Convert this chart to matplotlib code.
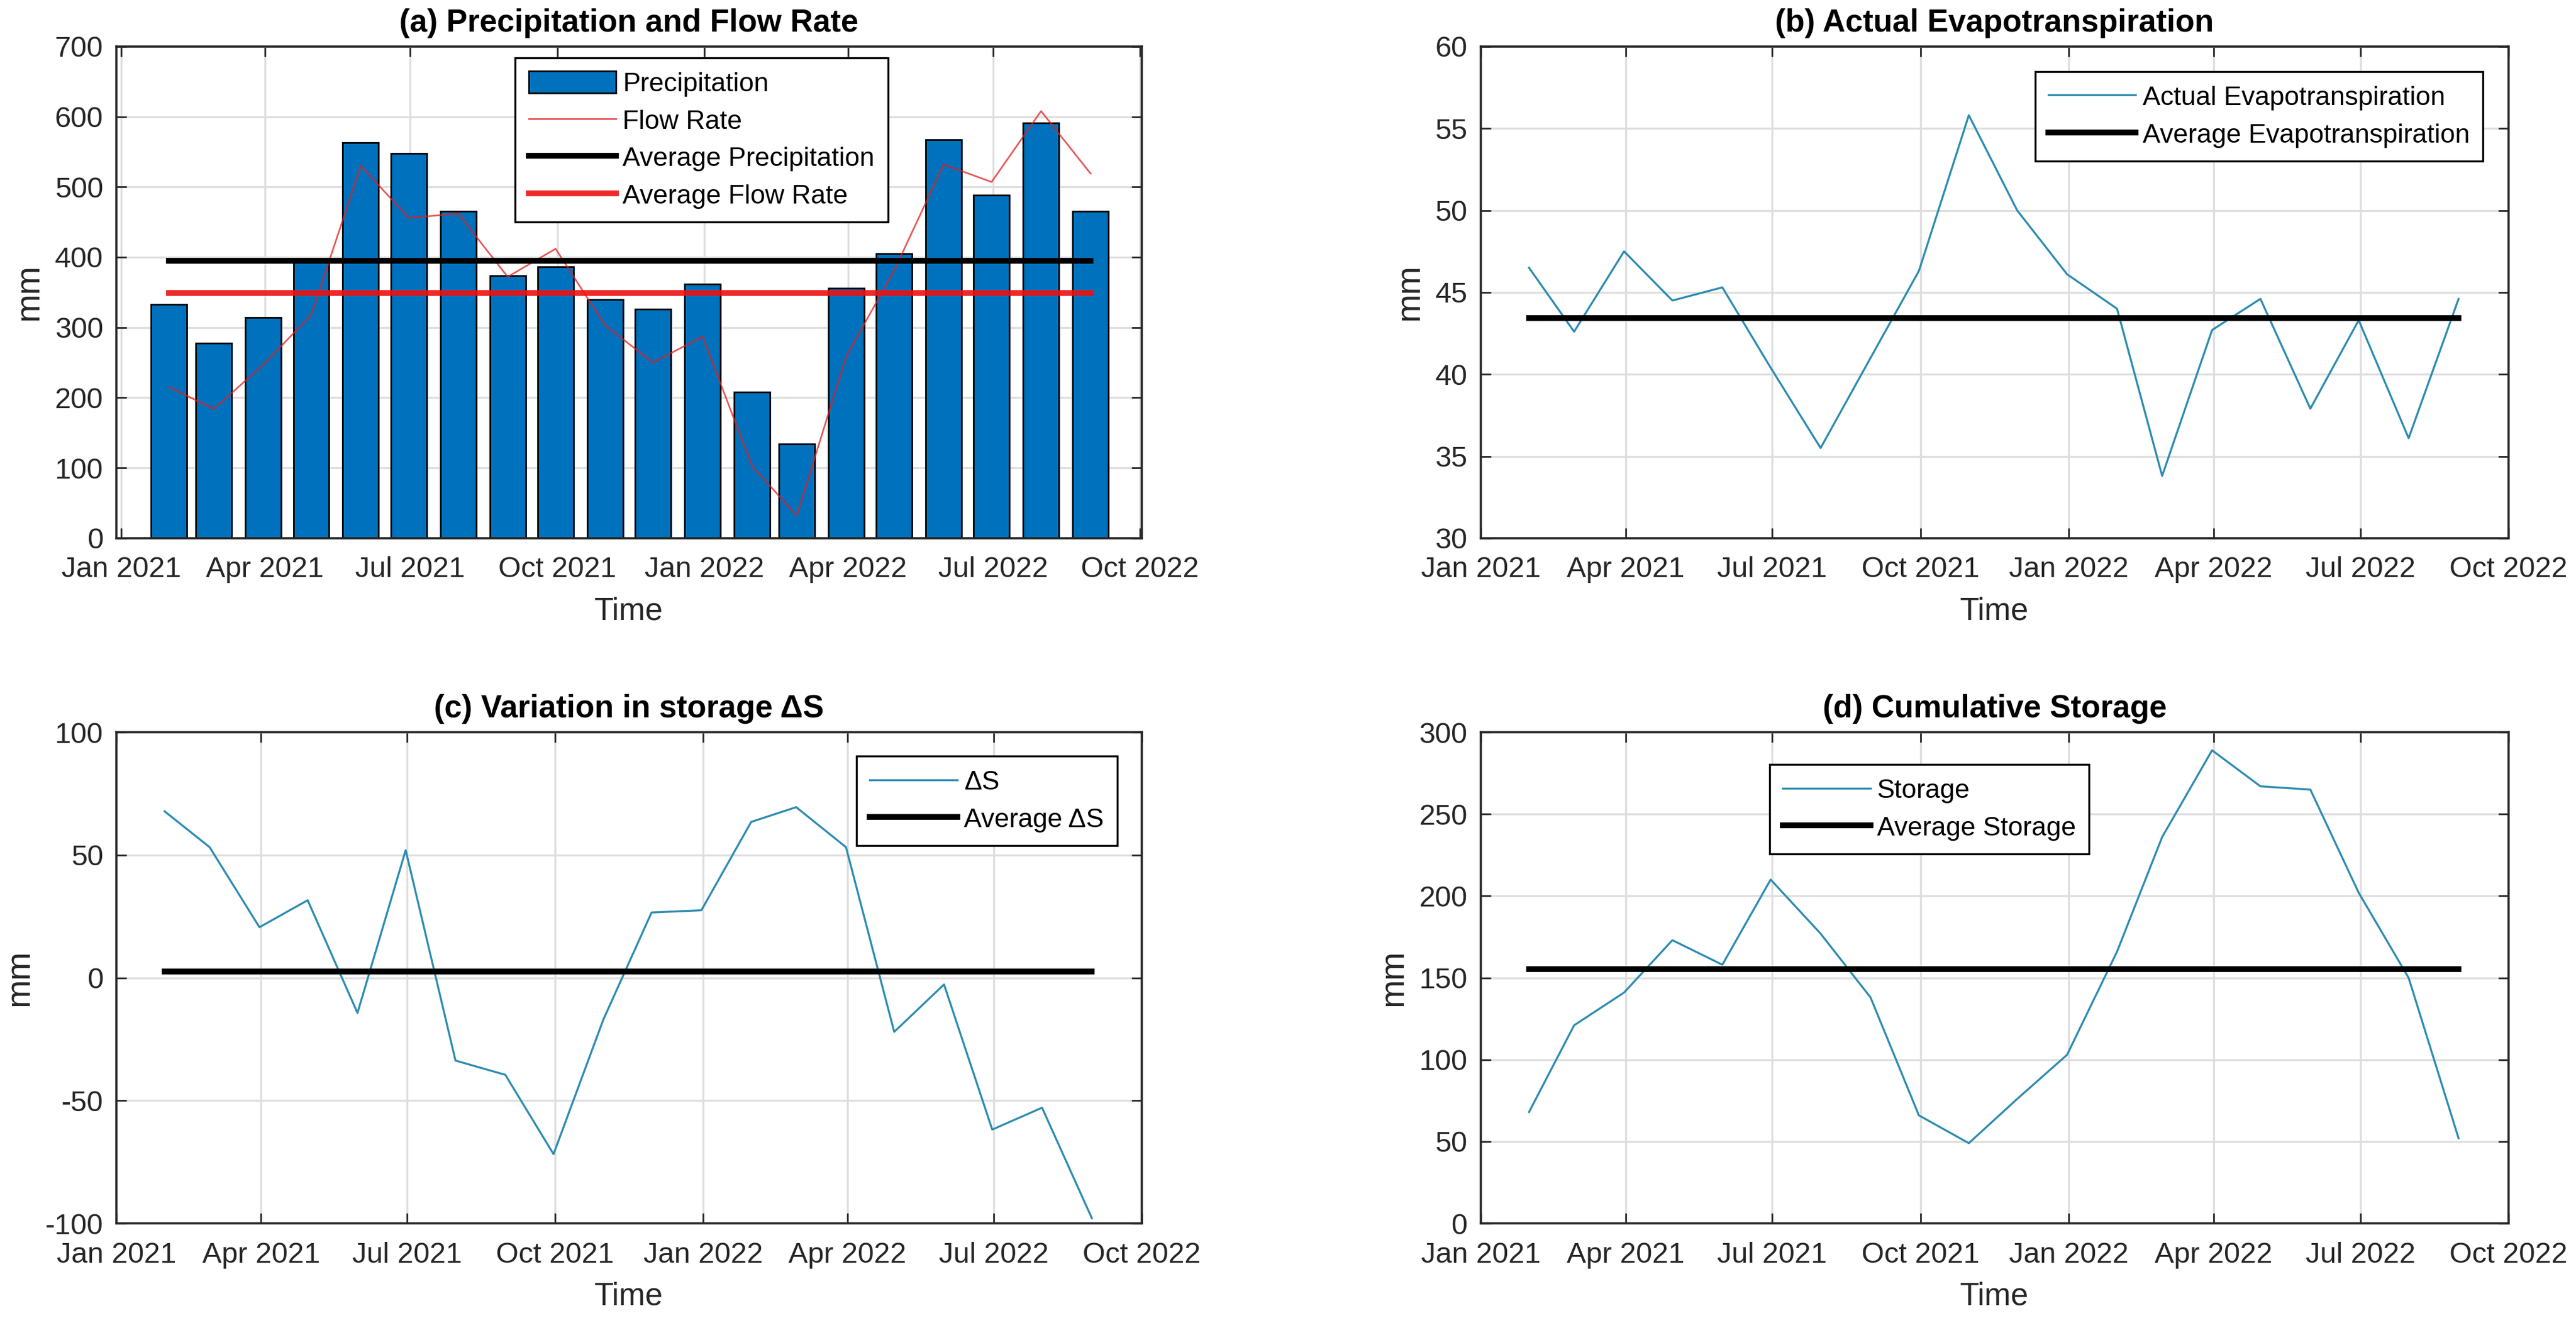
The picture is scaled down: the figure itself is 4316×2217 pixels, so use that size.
import numpy as np
import pandas as pd
import matplotlib
matplotlib.use('Agg')
import matplotlib.pyplot as plt
import matplotlib.dates as mdates

plt.rcParams['font.family'] = ['Liberation Sans', 'DejaVu Sans']
plt.rcParams['axes.unicode_minus'] = False

# monthly values (end of month), Jan 2021 - Aug 2022
dates = pd.date_range('2021-01-31', periods=20, freq='ME')
precip = [333, 278, 314, 395, 563, 548, 465, 374, 386, 340,
          326, 362, 208, 134, 356, 405, 567, 488, 591, 465]
flow = [215, 184, 247, 318, 530, 456, 462, 372, 412, 303,
        250, 287, 103, 32, 259, 381, 532, 507, 608, 519]
et = [46.5, 42.6, 47.5, 44.5, 45.3, 40.4, 35.5, 41.0, 46.3, 55.8,
      50.0, 46.1, 44.0, 33.8, 42.7, 44.6, 37.9, 43.3, 36.1, 44.6]
dS = [67.8, 53.2, 20.6, 31.6, -14.3, 52.0, -33.7, -39.5, -71.8, -17.0,
      26.6, 27.5, 63.5, 69.5, 53.2, -22.0, -2.7, -61.8, -52.9, -97.9]
storage = [68, 121, 141, 173, 158, 210, 177, 138, 66, 49,
           76, 103, 166, 236, 289, 267, 265, 202, 150, 52]

line_col = '#2d8cb0'
dark = '#262626'


def style(ax, ylim, ystep, xlim):
    ax.set_xlim(pd.Timestamp(xlim[0]), pd.Timestamp(xlim[1]))
    ax.set_ylim(*ylim)
    ax.set_yticks(np.arange(ylim[0], ylim[1] + 1, ystep))
    ax.xaxis.set_major_locator(mdates.MonthLocator(bymonth=[1, 4, 7, 10]))
    ax.xaxis.set_major_formatter(mdates.DateFormatter('%b %Y'))
    ax.grid(True, color='#dedede', lw=1.2)
    ax.set_axisbelow(True)
    ax.tick_params(direction='in', length=6, width=1.0, colors=dark,
                   labelsize=17.5, top=True, right=True)
    ax.tick_params(axis='x', pad=11)
    ax.tick_params(axis='y', pad=8)
    for s in ax.spines.values():
        s.set_color(dark)
        s.set_linewidth(1.3)
    ax.set_xlabel('Time', fontsize=19, color=dark, labelpad=8)
    ax.set_ylabel('mm', fontsize=20.5, color=dark, labelpad=6)


def legend(ax, anchor, loc, handles=None):
    if handles is None:
        handles = ax.get_legend_handles_labels()[0]
    lg = ax.legend(handles=handles, loc=loc, bbox_to_anchor=anchor,
                   fontsize=16, frameon=True, fancybox=False,
                   edgecolor='black', framealpha=1, handlelength=3.3,
                   handleheight=0.9, handletextpad=0.25, borderpad=0.5,
                   labelspacing=0.45, borderaxespad=0)
    lg.get_frame().set_linewidth(1.2)


fig = plt.figure(figsize=(21.58, 11.085), dpi=200)

# (a) precipitation and flow rate
ax = fig.add_axes([0.0452, 0.5932, 0.398, 0.3717])
h_bar = ax.bar(dates, precip, width=22.4, color='#0072BD', edgecolor='black',
               linewidth=1.0, label='Precipitation', zorder=2)
h_flow, = ax.plot(dates, flow, color='#e02020', lw=1.0, alpha=0.75,
                  label='Flow Rate', zorder=3)
h_avgp, = ax.plot([dates[0], dates[-1]], [np.mean(precip)] * 2, color='black',
                  lw=3.5, label='Average Precipitation', zorder=4)
h_avgq, = ax.plot([dates[0], dates[-1]], [np.mean(flow)] * 2, color='#ee1111',
                  lw=3.5, alpha=0.9, label='Average Flow Rate', zorder=4)
style(ax, (0, 700), 100, ('2020-12-29', '2022-10-02'))
ax.set_title('(a) Precipitation and Flow Rate', fontsize=19, fontweight='bold', pad=9)
legend(ax, (0.389, 0.977), 'upper left', [h_bar, h_flow, h_avgp, h_avgq])

# (b) actual evapotranspiration
ax = fig.add_axes([0.5748, 0.5932, 0.399, 0.3717])
ax.plot(dates, et, color=line_col, lw=1.2, label='Actual Evapotranspiration')
ax.plot([dates[0], dates[-1]], [np.mean(et)] * 2, color='black', lw=3.5,
        label='Average Evapotranspiration')
style(ax, (30, 60), 5, ('2021-01-01', '2022-10-01'))
ax.set_title('(b) Actual Evapotranspiration', fontsize=19, fontweight='bold', pad=9)
legend(ax, (0.975, 0.949), 'upper right')

# (c) variation in storage
ax = fig.add_axes([0.0452, 0.0753, 0.398, 0.3712])
ax.plot(dates, dS, color=line_col, lw=1.2, label='ΔS')
ax.plot([dates[0], dates[-1]], [np.mean(dS)] * 2, color='black', lw=3.5,
        label='Average ΔS')
style(ax, (-100, 100), 50, ('2021-01-01', '2022-10-01'))
ax.set_title('(c) Variation in storage ΔS', fontsize=19, fontweight='bold', pad=9)
legend(ax, (0.976, 0.951), 'upper right')

# (d) cumulative storage
ax = fig.add_axes([0.5748, 0.0753, 0.399, 0.3712])
ax.plot(dates, storage, color=line_col, lw=1.2, label='Storage')
ax.plot([dates[0], dates[-1]], [np.mean(storage)] * 2, color='black', lw=3.5,
        label='Average Storage')
style(ax, (0, 300), 50, ('2021-01-01', '2022-10-01'))
ax.set_title('(d) Cumulative Storage', fontsize=19, fontweight='bold', pad=9)
legend(ax, (0.281, 0.934), 'upper left')

fig.savefig('out.png', dpi=200)
